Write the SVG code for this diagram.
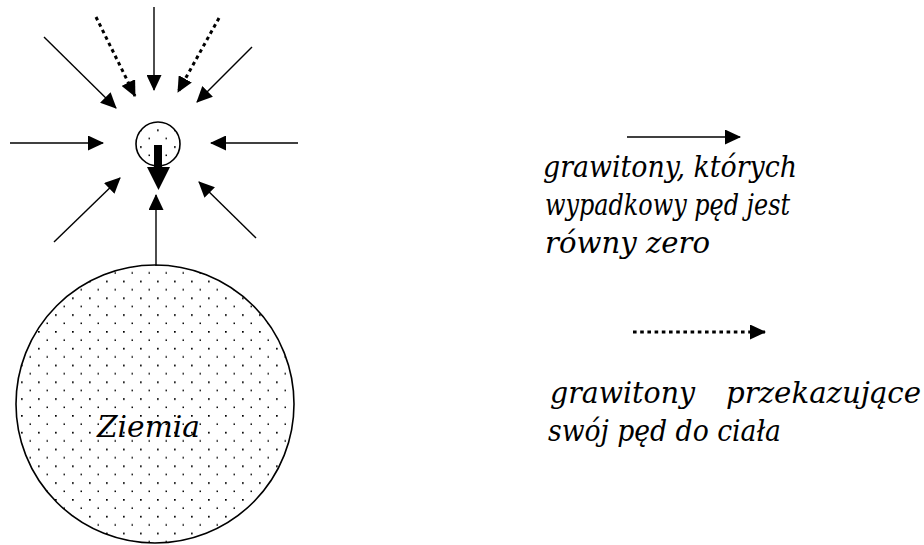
<svg xmlns="http://www.w3.org/2000/svg" width="924" height="545" viewBox="0 0 924 545">
<style>
.ln{stroke:#000;stroke-width:1.4;fill:none;marker-end:url(#ah)}
.dt{stroke:#000;stroke-width:3;fill:none;stroke-dasharray:3.6 3.6;marker-end:url(#ah)}
.body{stroke:#000;stroke-width:1.6;fill:url(#dots)}
text{font-family:"DejaVu Serif","Liberation Serif",serif;font-style:italic;font-size:29px;fill:#000}
</style>
<defs>
<marker id="ah" viewBox="0 0 16 15" refX="15" refY="7.5" markerWidth="16" markerHeight="15" markerUnits="userSpaceOnUse" orient="auto">
<path d="M0,0 L16,7.5 L0,15 z" fill="#000"/>
</marker>
<pattern id="dots" patternUnits="userSpaceOnUse" x="72" y="331" width="17" height="16.8">
<rect x="0" y="0" width="1.7" height="1.7" fill="#000"/>
<rect x="8.5" y="8.4" width="1.5" height="1.5" fill="#000"/>
</pattern>
</defs>
<rect width="924" height="545" fill="#fff"/>
<g id="earth">
<circle class="body" cx="155" cy="404" r="139"/>
<text x="97" y="437" textLength="103" lengthAdjust="spacingAndGlyphs">Ziemia</text>
</g>
<g id="body">
<circle class="body" cx="158" cy="144" r="22"/>
<path d="M154,145 H162 V167 H170 L158.5,190 L147,167 H154 Z" fill="#000"/>
</g>
<g id="connectors">
<line class="ln" x1="154" y1="7" x2="154" y2="90"/>
<line class="dt" x1="96" y1="17" x2="135" y2="96"/>
<line class="dt" x1="219" y1="18" x2="178" y2="92"/>
<line class="ln" x1="44" y1="37" x2="116" y2="108"/>
<line class="ln" x1="252" y1="47" x2="197" y2="102"/>
<line class="ln" x1="10" y1="143" x2="103" y2="143"/>
<line class="ln" x1="298" y1="143" x2="211" y2="143"/>
<line class="ln" x1="54" y1="242" x2="120" y2="178"/>
<line class="ln" x1="256" y1="238" x2="199" y2="182"/>
<line class="ln" x1="156" y1="266" x2="156" y2="195"/>
</g>
<g id="legend-solid">
<line class="ln" x1="627" y1="137" x2="740" y2="137"/>
<text x="543" y="177" textLength="254" lengthAdjust="spacingAndGlyphs">grawitony, których</text>
<text x="545" y="215" textLength="245" lengthAdjust="spacingAndGlyphs">wypadkowy pęd jest</text>
<text x="545" y="253" textLength="165" lengthAdjust="spacingAndGlyphs">równy zero</text>
</g>
<g id="legend-dotted">
<line class="dt" x1="633" y1="332" x2="765" y2="332"/>
<text x="550" y="403" textLength="145" lengthAdjust="spacingAndGlyphs">grawitony</text>
<text x="726" y="403" textLength="195" lengthAdjust="spacingAndGlyphs">przekazujące</text>
<text x="548" y="441" textLength="233" lengthAdjust="spacingAndGlyphs">swój pęd do ciała</text>
</g>
</svg>
